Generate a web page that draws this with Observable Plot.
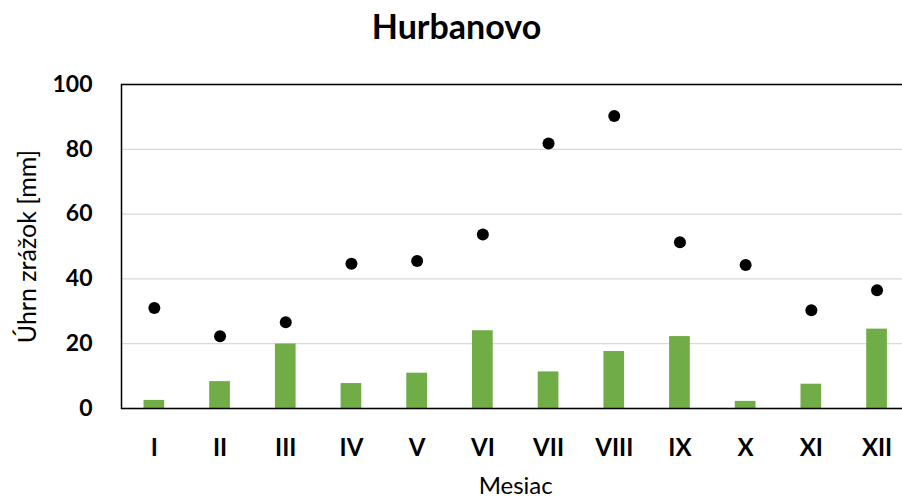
<!DOCTYPE html>
<html>
<head>
<meta charset="utf-8">
<script src="https://cdn.jsdelivr.net/npm/d3@7"></script>
<script src="https://cdn.jsdelivr.net/npm/@observablehq/plot@0.6"></script>
<style>
  html, body { margin: 0; padding: 0; background: white; overflow: hidden; }
</style>
</head>
<body>
<div id="chart"></div>
<script>
const title = "Hurbanovo";
const xLabel = "Mesiac";
const yLabel = "Úhrn zrážok [mm]";
const months = ["I", "II", "III", "IV", "V", "VI", "VII", "VIII", "IX", "X", "XI", "XII"];
const barValues = [2.5, 8.3, 19.9, 7.7, 10.9, 24.0, 11.3, 17.6, 22.2, 2.2, 7.5, 24.5];
const dotValues = [31.0, 22.3, 26.6, 44.7, 45.5, 53.7, 81.8, 90.3, 51.3, 44.3, 30.3, 36.5];
const yTicks = [0, 20, 40, 60, 80, 100];

const bars = months.map((m, i) => ({month: m, value: barValues[i]}));
const dots = months.map((m, i) => ({month: m, value: dotValues[i]}));

const chart = Plot.plot({
  width: 902,
  height: 500,
  marginLeft: 121,
  marginRight: -7.4,
  marginTop: 84,
  marginBottom: 92,
  style: {fontFamily: "Lato, 'Open Sans', sans-serif", color: "black", background: "white"},
  x: {domain: months, paddingInner: 0.685, paddingOuter: 0.3425, align: 0.5, round: false},
  y: {domain: [0, 100]},
  marks: [
    Plot.gridY(yTicks, {stroke: "#d9d9d9", strokeOpacity: 1, strokeWidth: 1.3}),
    Plot.barY(bars, {x: "month", y: "value", fill: "#70AD47"}),
    Plot.dot(dots, {x: "month", y: "value", r: 6, fill: "black", stroke: null}),
    Plot.frame({stroke: "black", strokeWidth: 1.5}),
    Plot.axisY(yTicks, {tickSize: 0, tickPadding: 29, fontSize: 23, fontWeight: "bold", label: null}),
    Plot.axisX({tickSize: 0, tickPadding: 30, fontSize: 24, fontWeight: "bold", label: null}),
    Plot.text([title], {frameAnchor: "top-left", dx: 335, dy: -56, fontSize: 34, fontWeight: "bold", textAnchor: "middle", lineAnchor: "middle"}),
    Plot.text([xLabel], {frameAnchor: "bottom", dy: 78, fontSize: 24, lineAnchor: "middle"}),
    Plot.text([yLabel], {frameAnchor: "left", dx: -94, rotate: -90, fontSize: 25, textAnchor: "middle", lineAnchor: "middle"})
  ]
});
document.getElementById("chart").appendChild(chart);
</script>
</body>
</html>
